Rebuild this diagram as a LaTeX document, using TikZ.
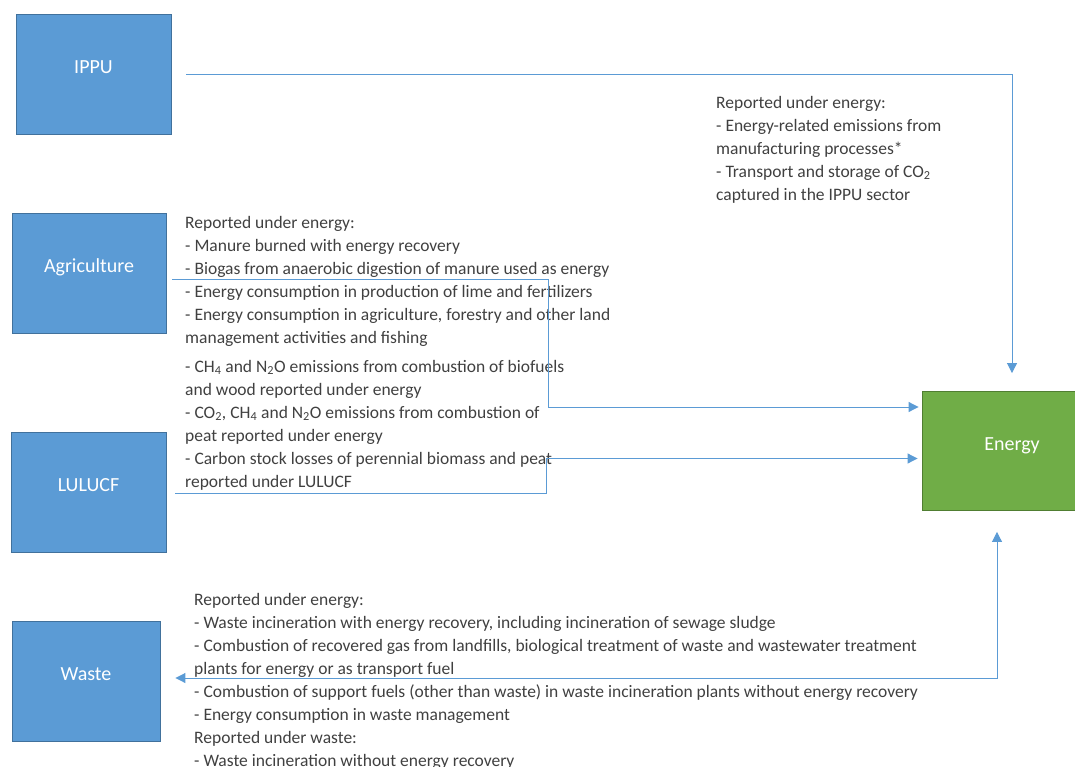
\documentclass[tikz,border=0pt]{standalone}
\usepackage{fontspec}
\setmainfont{Carlito}
\usetikzlibrary{arrows.meta}

\definecolor{sectorfill}{HTML}{5B9BD5}
\definecolor{sectorline}{HTML}{41719C}
\definecolor{energyfill}{HTML}{70AD47}
\definecolor{energyline}{HTML}{507E32}
\definecolor{linkcol}{HTML}{5B9BD5}
\definecolor{notecol}{HTML}{404040}

\begin{document}
\begin{tikzpicture}[x=1pt,y=-1pt,
  sector/.style={draw=sectorline, fill=sectorfill, line width=0.9pt,
    minimum height=120pt, inner sep=0pt, text=white,
    font=\fontsize{20}{24}\selectfont, text height=8pt, text depth=9pt},
  energybox/.style={sector, draw=energyline, fill=energyfill},
  note/.style={anchor=north west, inner sep=0pt, align=left, text=notecol,
    font=\fontsize{17.5}{23}\selectfont},
  link/.style={draw=linkcol, line width=1pt},
  tip/.style={-{Triangle[length=10pt,width=10pt]}},
  twotips/.style={{Triangle[length=10pt,width=10pt]}-{Triangle[length=10pt,width=10pt]}}
]
\useasboundingbox (0,0) rectangle (1075,767);
\clip (0,0) rectangle (1075,767);

% sector boxes
\node[sector, minimum width=155pt] (ippu) at (93.5,74) {IPPU};
\node[sector, minimum width=154pt] (agri) at (89,273) {Agriculture};
\node[sector, minimum width=155pt] (lulucf) at (88.5,492) {LULUCF};
\node[sector, minimum width=148pt] (waste) at (86,681) {Waste};
\node[energybox, minimum width=180pt, minimum height=119pt] (energy) at (1012,450.5) {Energy};

% explanatory notes
\node[note] (ippunote) at (716,92) {\rule{0pt}{16pt}Reported under energy:\\
- Energy-related emissions from\\
manufacturing processes*\\
- Transport and storage of CO\textsubscript{2}\\
captured in the IPPU sector};

\node[note] (agrinote) at (185,212) {\rule{0pt}{16pt}Reported under energy:\\
- Manure burned with energy recovery\\
- Biogas from anaerobic digestion of manure used as energy\\
- Energy consumption in production of lime and fertilizers\\
- Energy consumption in agriculture, forestry and other land\\
management activities and fishing};

\node[note] (lulucfnote) at (185,356) {\rule{0pt}{16pt}- CH\textsubscript{4} and N\textsubscript{2}O emissions from combustion of biofuels\\
and wood reported under energy\\
- CO\textsubscript{2}, CH\textsubscript{4} and N\textsubscript{2}O emissions from combustion of\\
peat reported under energy\\
- Carbon stock losses of perennial biomass and peat\\
reported under LULUCF};

\node[note] (wastenote) at (194,589) {\rule{0pt}{16pt}Reported under energy:\\
- Waste incineration with energy recovery, including incineration of sewage sludge\\
- Combustion of recovered gas from landfills, biological treatment of waste and wastewater treatment\\
plants for energy or as transport fuel\\
- Combustion of support fuels (other than waste) in waste incineration plants without energy recovery\\
- Energy consumption in waste management\\
Reported under waste:\\
- Waste incineration without energy recovery};

% connector end points and bends
\coordinate (ippuin) at ([yshift=17.5pt]energy.north);
\coordinate (agriin) at ([xshift=-3pt,yshift=43.5pt]energy.west);
\coordinate (lulin) at ([xshift=-4pt,yshift=-8pt]energy.west);
\coordinate (energyout) at ([xshift=-15pt,yshift=-21.5pt]energy.south);
\coordinate (agribend) at (548,0);
\coordinate (lulbend) at (546,0);

% connectors
\draw[link, tip] ([xshift=15pt,yshift=-1pt]ippu.east) -| (ippuin);
\draw[link, tip] ([xshift=6pt,yshift=-6pt]agri.east) -| (agribend |- agriin) -- (agriin);
\draw[link, tip] ([xshift=9pt,yshift=-1pt]lulucf.east) -| (lulbend |- lulin) -- (lulin);
\draw[link, twotips] ([xshift=15pt,yshift=3pt]waste.east) -| (energyout);
\end{tikzpicture}
\end{document}
